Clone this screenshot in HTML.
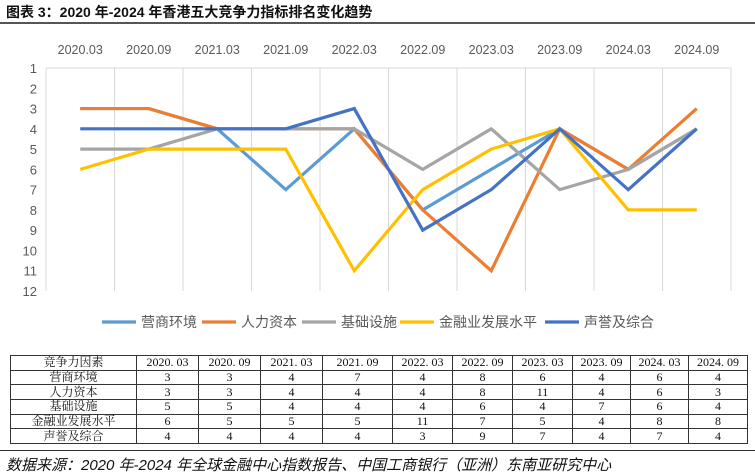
<!DOCTYPE html>
<html><head><meta charset="utf-8">
<style>
body{margin:0;background:#fff;width:755px;height:474px;overflow:hidden;position:relative;font-family:"Liberation Sans","Noto Sans CJK SC",sans-serif;}
#title{position:absolute;left:6px;top:2px;font-size:14px;font-weight:bold;color:#111;font-family:"Liberation Sans","Noto Sans CJK SC",sans-serif;}
#sep1{position:absolute;left:0;top:22px;width:755px;height:2px;background:#555;}
#sep2{position:absolute;left:0;top:450px;width:755px;height:1px;background:#333;}
#source{position:absolute;left:6px;top:454px;font-size:15px;font-style:italic;color:#111;}
table{position:absolute;left:10px;top:355px;border-collapse:collapse;font-family:"Liberation Serif","Noto Serif CJK SC",serif;font-size:12px;color:#111;}
td{border:1px solid #333;height:13.7px;padding:0;text-align:center;line-height:13px;}
</style></head><body>
<div id="title">图表 3：2020 年-2024 年香港五大竞争力指标排名变化趋势</div>
<div id="sep1"></div>
<svg id="chart" width="755" height="345" style="position:absolute;left:0;top:0"></svg>
<table id="tbl"></table>
<div id="sep2"></div>
<div id="source">数据来源：2020 年-2024 年全球金融中心指数报告、中国工商银行（亚洲）东南亚研究中心</div>
<script>
const categories=["2020.03","2020.09","2021.03","2021.09","2022.03","2022.09","2023.03","2023.09","2024.03","2024.09"];
const seriesNames=["营商环境","人力资本","基础设施","金融业发展水平","声誉及综合"];
const business=[3,3,4,7,4,8,6,4,6,4];
const human=[3,3,4,4,4,8,11,4,6,3];
const infra=[5,5,4,4,4,6,4,7,6,4];
const finance=[6,5,5,5,11,7,5,4,8,8];
const reputation=[4,4,4,4,3,9,7,4,7,4];
const yTicks=[1,2,3,4,5,6,7,8,9,10,11,12];
const colors=["#5b9bd5","#ed7d31","#a5a5a5","#ffc000","#4472c4"];
const series=[business,human,infra,finance,reputation];
const NS="http://www.w3.org/2000/svg";
const svg=document.getElementById('chart');
const L=46,R=731,T=68,B=291;
const bw=(R-L)/categories.length;
const x=i=>L+bw*(i+0.5);
const y=v=>T+(v-1)*(B-T)/11;
function mk(tag,attrs){const e=document.createElementNS(NS,tag);for(const k in attrs)e.setAttribute(k,attrs[k]);svg.appendChild(e);return e;}
for(let i=0;i<=categories.length;i++){
  const g=mk('line',{x1:L+bw*i,x2:L+bw*i,y1:T,y2:B,stroke:'#d9d9d9','stroke-width':1});
  
  
}
const topBorder=mk('line',{x1:L,x2:R,y1:T,y2:T,stroke:'#d9d9d9','stroke-width':1});


categories.forEach((c,i)=>{
  const t=mk('text',{x:x(i),y:54,'text-anchor':'middle','font-size':12.5,fill:'#595959','font-family':'Liberation Sans, sans-serif'});
  t.textContent=c;
  
  
});
yTicks.forEach(v=>{
  const t=mk('text',{x:37,y:y(v)+5,'text-anchor':'end','font-size':13,fill:'#595959','font-family':'Liberation Sans, sans-serif'});
  t.textContent=v;
  
  
});
[0,1,2,3,4].forEach(s=>{
  const p=mk('polyline',{points:series[s].map((v,i)=>x(i)+','+y(v)).join(' '),fill:'none',stroke:colors[s],'stroke-width':3.2,'stroke-linejoin':'miter'});
  
  
});
const legX=[102,202,302,400,545];
seriesNames.forEach((n,s)=>{
  const l=mk('line',{x1:legX[s],x2:legX[s]+34,y1:322,y2:322,stroke:colors[s],'stroke-width':3.2});
  
  
  const t=mk('text',{x:legX[s]+39,y:327,'font-size':14,fill:'#595959','font-family':'Liberation Sans, Noto Sans CJK SC, sans-serif'});
  t.textContent=n;
  
  
});
const widths=[126,62,62,62,70,60,60,60,58,58,59];
const tbl=document.getElementById('tbl');
const hdr=["竞争力因素"].concat(categories.map(c=>c.replace('.','. ')));
const rows=[hdr].concat(seriesNames.map((n,s)=>[n].concat(series[s])));
rows.forEach((r,ri)=>{
  const tr=document.createElement('tr');
  
  
  r.forEach((c,ci)=>{
    const td=document.createElement('td');
    
    
    td.style.width=(widths[ci]-1)+'px';
    td.textContent=c;
    tr.appendChild(td);
  });
  tbl.appendChild(tr);
});
</script>
</body></html>
